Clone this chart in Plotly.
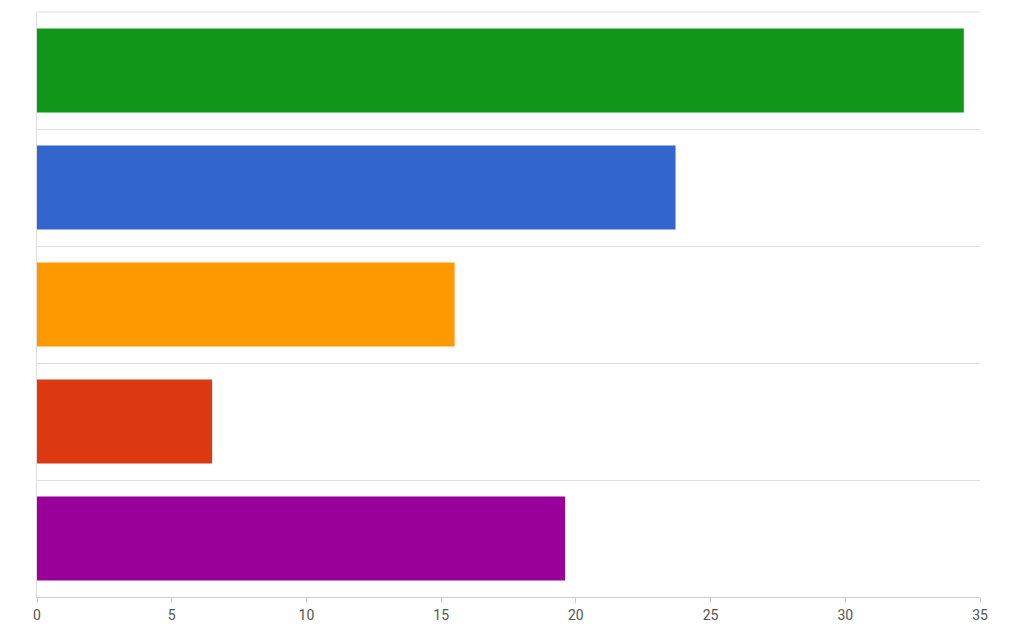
import plotly.graph_objects as go

categories = ["A", "B", "C", "D", "E"]
values = [34.4, 23.7, 15.5, 6.5, 19.6]
colors = ["#109618", "#3366cc", "#ff9900", "#dc3912", "#990099"]
x_ticks = [0, 5, 10, 15, 20, 25, 30, 35]

pos = list(range(len(categories)))
fig = go.Figure(go.Bar(x=values, y=pos, orientation="h", marker_color=colors,
                       marker_line_width=0, hovertext=categories, width=0.72))
fig.update_layout(
    width=1008, height=628, margin=dict(l=29, r=36, t=4, b=39),
    plot_bgcolor="white", paper_bgcolor="white", showlegend=False,
    font=dict(family="Roboto, Arial, sans-serif", size=14, color="#555"),
)
fig.update_xaxes(range=[0, 35], tickvals=x_ticks, showgrid=False, zeroline=False,
                 showline=True, linecolor="#ccc", ticks="outside", ticklen=5,
                 tickcolor="#ccc", tickfont=dict(color="#555", size=14))
fig.update_yaxes(range=[4.5, -0.5], tick0=0.5, dtick=1, showticklabels=False,
                 showgrid=True, gridcolor="#ddd", gridwidth=1, zeroline=False,
                 showline=True, linecolor="#ddd", mirror=False)
fig.add_shape(type="line", xref="paper", yref="paper", x0=0, x1=1, y0=1, y1=1,
              line=dict(color="#ddd", width=1))
fig.write_html("out.html")
